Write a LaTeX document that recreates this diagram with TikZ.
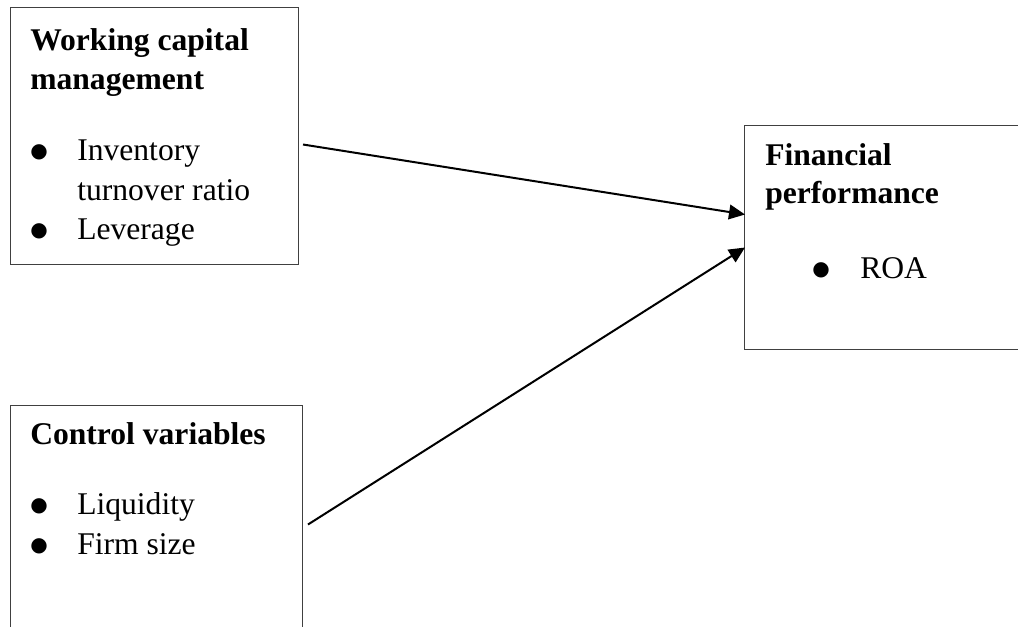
\documentclass[tikz,border=0pt]{standalone}
\usepackage{fontspec}
\setmainfont{Liberation Serif}
\newfontfamily\dotfont{DejaVu Sans}
\usetikzlibrary{arrows.meta}

\begin{document}
\begin{tikzpicture}[x=0.75pt,y=-0.75pt,
		box/.style={draw=black!75,line width=0.75pt,inner sep=0pt,anchor=north west},
		txt/.style={anchor=base west,inner sep=0pt,font=\fontsize{23.7}{30}\selectfont},
		head/.style={txt,font=\fontsize{23.7}{30}\selectfont\bfseries},
		dot/.style={txt,font=\dotfont\fontsize{15}{18}\selectfont,yshift=2.2pt},
		link/.style={-{Triangle[length=12pt,width=11pt]},line width=1.5pt}]
		\def\px{0.75pt}
		\useasboundingbox (0,0) rectangle (1018,626);
		\clip (0,0) rectangle (1018,626);
		%Boxes
		\node[box,minimum width=288*\px,minimum height=257*\px] (wcm) at (10,7) {};
		\node[box,minimum width=290*\px,minimum height=224*\px] (fp) at (744,125) {};
		\node[box,minimum width=292*\px,minimum height=235*\px] (cv) at (10,405) {};
		%Working capital management
		\node[head] (wcmtop) at (30,50) {Working capital};
		\node[head] (wcmbot) at (30,89) {management};
		\node[dot] (wcmdota) at (30,160) {●};
		\node[txt] (wcminv) at (77,160) {Inventory};
		\node[txt] (wcmturn) at (77,200) {turnover ratio};
		\node[dot] (wcmdotb) at (30,239) {●};
		\node[txt] (wcmlev) at (77,239) {Leverage};
		%Financial performance
		\node[head] (fptop) at (765,165) {Financial};
		\node[head] (fpbot) at (765,203) {performance};
		\node[dot] (fpdot) at (812,278) {●};
		\node[txt] (fproa) at (860,278) {ROA};
		%Control variables
		\node[head] (cvtop) at (30,444) {Control variables};
		\foreach \name/\yy in {Liquidity/514,Firm size/554}{
			\node[dot] (cvdot\yy) at (30,\yy) {●};
			\node[txt] (cvitem\yy) at (77,\yy) {\name};
		}
		%Arrows
		\draw[link] ([shift={(4,8.5)}]wcm.east) -- ([shift={(1,-23)}]fp.west);
		\draw[link] ([shift={(5,1.5)}]cv.east) -- ([shift={(1,10)}]fp.west);
\end{tikzpicture}
\end{document}
